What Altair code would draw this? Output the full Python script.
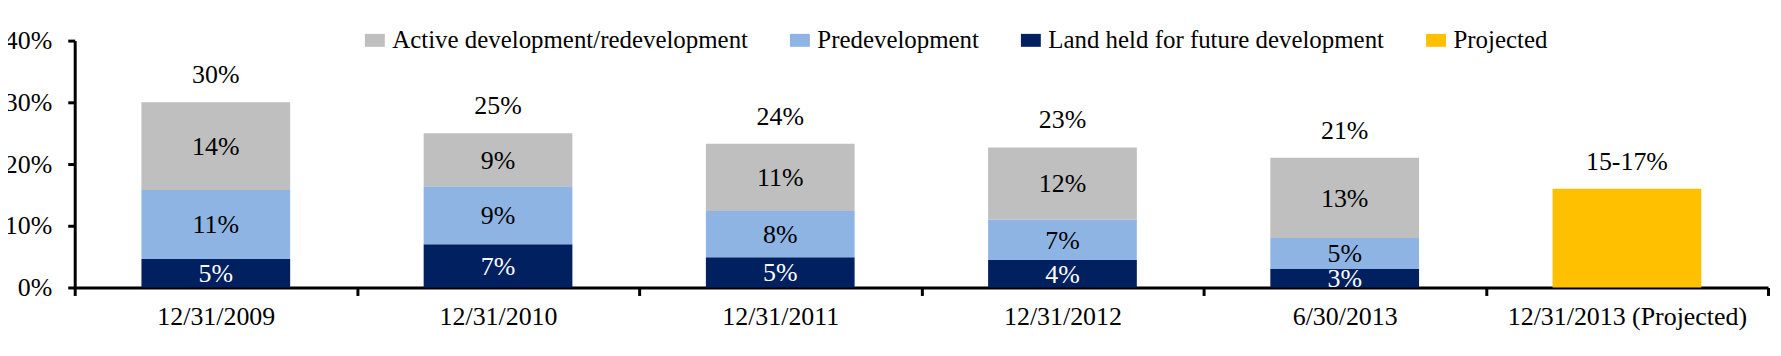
import altair as alt
import pandas as pd

dates = ["12/31/2009", "12/31/2010", "12/31/2011", "12/31/2012", "6/30/2013",
         "12/31/2013 (Projected)"]
series = ["Active development/redevelopment", "Predevelopment",
          "Land held for future development", "Projected"]
colors = ["#BFBFBF", "#8EB4E3", "#002060", "#FFC000"]

land = [4.6, 7.0, 4.9, 4.45, 3.0]
pre = [11.2, 9.4, 7.5, 6.55, 5.0]
active = [14.2, 8.6, 10.9, 11.7, 13.0]
projected = [16.0]

land_labels = ["5%", "7%", "5%", "4%", "3%"]
pre_labels = ["11%", "9%", "8%", "7%", "5%"]
active_labels = ["14%", "9%", "11%", "12%", "13%"]
total_labels = ["30%", "25%", "24%", "23%", "21%", "15-17%"]

FONT = "Liberation Serif"

rows = []
tot_rows = []
for i in range(5):
    cum = 0.0
    for order, (name, vals, labs, tcol) in enumerate([
        (series[2], land, land_labels, "white"),
        (series[1], pre, pre_labels, "black"),
        (series[0], active, active_labels, "black"),
    ]):
        v = vals[i]
        rows.append({"date": dates[i], "series": name, "value": v, "order": order,
                     "mid": cum + v / 2, "label": labs[i], "tcolor": tcol})
        cum += v
    tot_rows.append({"date": dates[i], "total": cum, "label": total_labels[i]})
rows.append({"date": dates[5], "series": series[3], "value": projected[0], "order": 0,
             "mid": projected[0] / 2, "label": "", "tcolor": "black"})
tot_rows.append({"date": dates[5], "total": projected[0], "label": total_labels[5]})

df = pd.DataFrame(rows)
seg_df = df[df["label"] != ""]
tot_df = pd.DataFrame(tot_rows)

x_enc = alt.X("date:N", sort=dates,
              scale=alt.Scale(domain=dates, paddingInner=0, paddingOuter=0),
              axis=alt.Axis(title=None, labelAngle=0, tickSize=8, tickBand="extent",
                            labelPadding=8, labelLimit=0))
y_axis = alt.Axis(title=None, values=[0, 10, 20, 30, 40], labelExpr="datum.value + '%'",
                  tickSize=7, labelPadding=16, grid=False)
y_scale = alt.Scale(domain=[0, 40], nice=False)

bars = alt.Chart(df).mark_bar(width=alt.RelativeBandSize(0.527)).encode(
    x=x_enc,
    y=alt.Y("value:Q", stack="zero", scale=y_scale, axis=y_axis),
    color=alt.Color("series:N", scale=alt.Scale(domain=series, range=colors),
                    legend=alt.Legend(title=None, orient="none", direction="horizontal",
                                      legendX=289, legendY=-13, padding=0,
                                      symbolType="M-1,-0.65L1,-0.65L1,0.65L-1,0.65Z",
                                      symbolSize=400, symbolStrokeWidth=0,
                                      symbolOpacity=1, labelLimit=0,
                                      labelFont=FONT, labelFontSize=25,
                                      labelColor="black", labelOffset=5,
                                      columnPadding=39)),
    order=alt.Order("order:Q"),
)

seg_text = alt.Chart(seg_df).mark_text(font=FONT, fontSize=26, baseline="middle", dy=1).encode(
    x=x_enc,
    y=alt.Y("mid:Q", scale=y_scale, axis=y_axis),
    text="label:N",
    color=alt.Color("tcolor:N", scale=None),
)

tot_text = alt.Chart(tot_df).mark_text(font=FONT, fontSize=26, baseline="middle", dy=-27,
                                       color="black").encode(
    x=x_enc,
    y=alt.Y("total:Q", scale=y_scale, axis=y_axis),
    text="label:N",
)

chart = alt.layer(bars, seg_text, tot_text).properties(
    width=1701, height=248,
    padding={"left": 67, "top": 32, "right": 5, "bottom": 50},
    autosize=alt.AutoSizeParams(type="none"),
).configure_view(stroke=None).configure_axis(
    domainColor="black", domainWidth=3, tickColor="black", tickWidth=3,
    labelFont=FONT, labelFontSize=26, labelColor="black",
)

chart.save("out.html", embed_options={"renderer": "svg", "actions": False})
